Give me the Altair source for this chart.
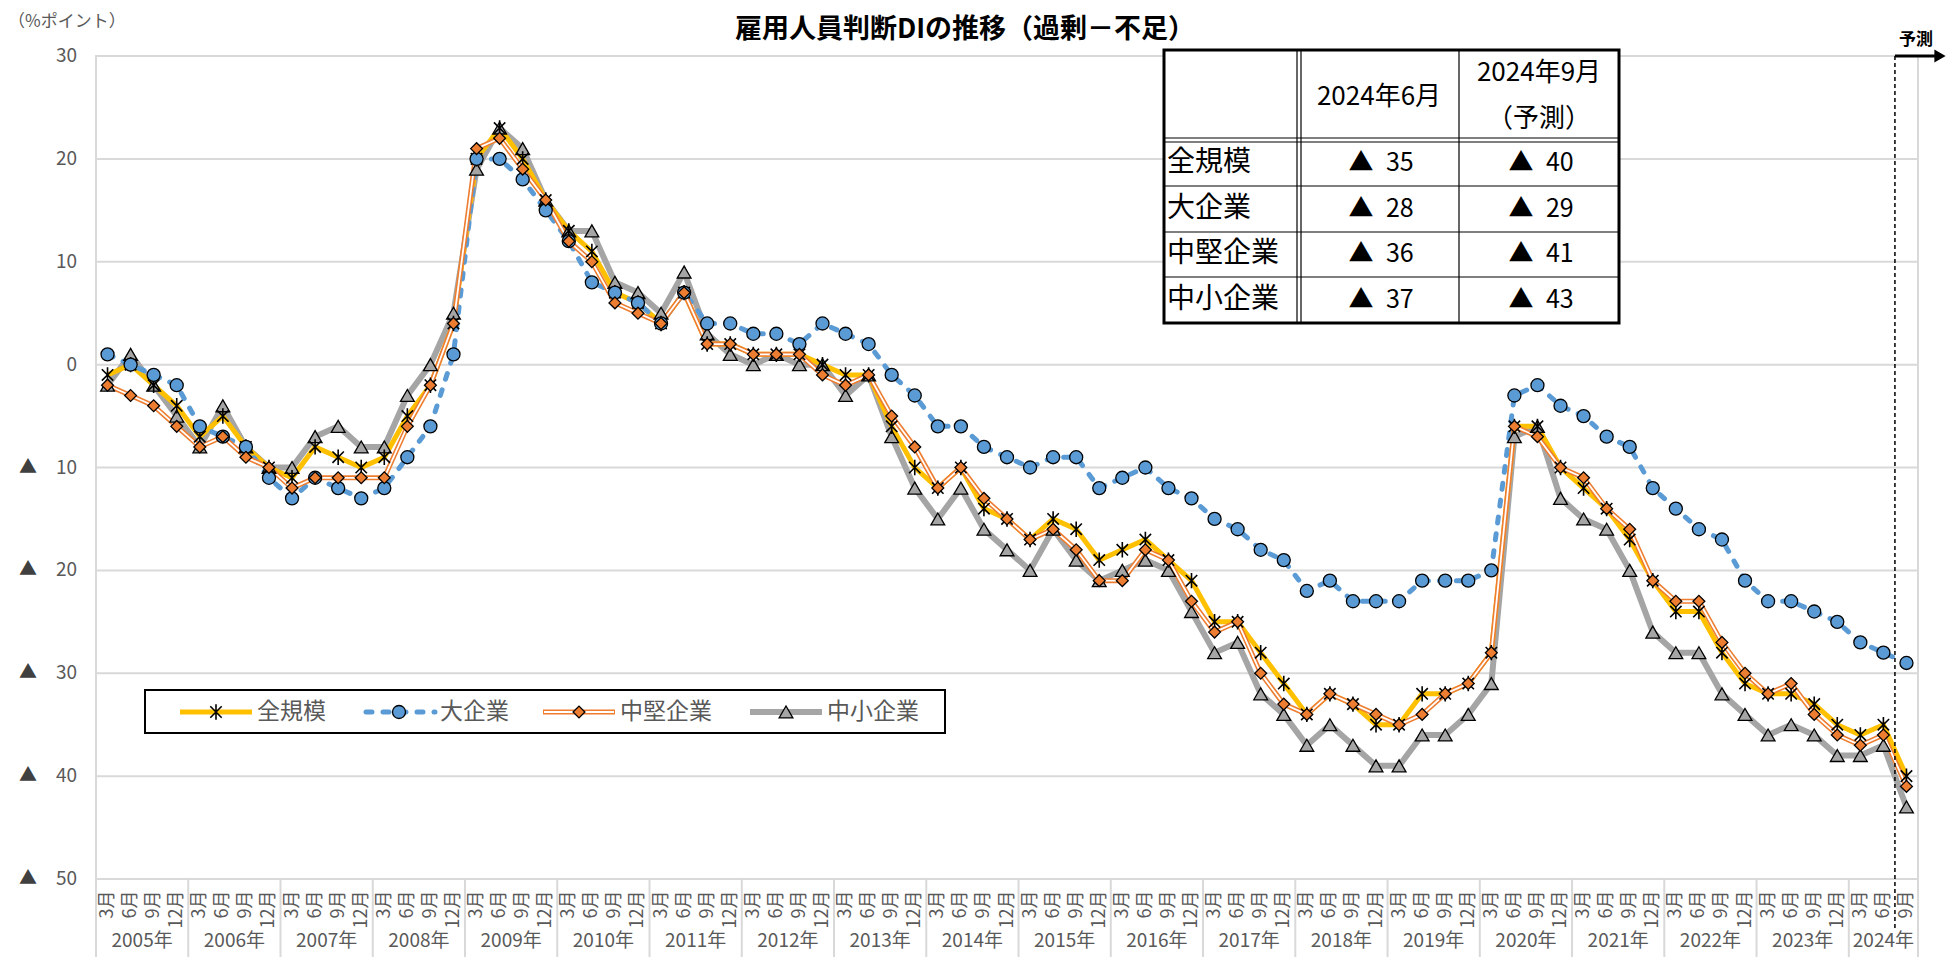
import json
import altair as alt
import pandas as pd

# ---------------- data ----------------
series_names = ["全規模", "大企業", "中堅企業", "中小企業"]
months = ["3月", "6月", "9月", "12月"]
year_labels = ["2005年", "2006年", "2007年", "2008年", "2009年", "2010年", "2011年",
               "2012年", "2013年", "2014年", "2015年", "2016年", "2017年", "2018年",
               "2019年", "2020年", "2021年", "2022年", "2023年", "2024年"]
year_quarters = [4] * 19 + [3]
y_ticks = [-50, -40, -30, -20, -10, 0, 10, 20, 30]
neg_mark = "▲"

all_scale = [
    -1, 0, -2, -4,
    -7, -5, -8, -10,
    -11, -8, -9, -10,
    -9, -5, -2, 4,
    20, 23, 20, 16,
    13, 11, 7, 6,
    4, 7, 2, 2,
    1, 1, 1, 0,
    -1, -1, -6, -10,
    -12, -10, -14, -15,
    -17, -15, -16, -19,
    -18, -17, -19, -21,
    -25, -25, -28, -31,
    -34, -32, -33, -35,
    -35, -32, -32, -31,
    -28, -6, -6, -10,
    -12, -14, -17, -21,
    -24, -24, -28, -31,
    -32, -32, -33, -35,
    -36, -35, -40,
]
large = [
    1, 0, -1, -2,
    -6, -7, -8, -11,
    -13, -11, -12, -13,
    -12, -9, -6, 1,
    20, 20, 18, 15,
    12, 8, 7, 6,
    4, 7, 4, 4,
    3, 3, 2, 4,
    3, 2, -1, -3,
    -6, -6, -8, -9,
    -10, -9, -9, -12,
    -11, -10, -12, -13,
    -15, -16, -18, -19,
    -22, -21, -23, -23,
    -23, -21, -21, -21,
    -20, -3, -2, -4,
    -5, -7, -8, -12,
    -14, -16, -17, -21,
    -23, -23, -24, -25,
    -27, -28, -29,
]
medium = [
    -2, -3, -4, -6,
    -8, -7, -9, -10,
    -12, -11, -11, -11,
    -11, -6, -2, 4,
    21, 22, 19, 16,
    12, 10, 6, 5,
    4, 7, 2, 2,
    1, 1, 1, -1,
    -2, -1, -5, -8,
    -12, -10, -13, -15,
    -17, -16, -18, -21,
    -21, -18, -19, -23,
    -26, -25, -30, -33,
    -34, -32, -33, -34,
    -35, -34, -32, -31,
    -28, -6, -7, -10,
    -11, -14, -16, -21,
    -23, -23, -27, -30,
    -32, -31, -34, -36,
    -37, -36, -41,
]
small = [
    -2, 1, -2, -5,
    -8, -4, -8, -10,
    -10, -7, -6, -8,
    -8, -3, 0, 5,
    19, 23, 21, 16,
    13, 13, 8, 7,
    5, 9, 3, 1,
    0, 1, 0, 0,
    -3, -1, -7, -12,
    -15, -12, -16, -18,
    -20, -16, -19, -21,
    -20, -19, -20, -24,
    -28, -27, -32, -34,
    -37, -35, -37, -39,
    -39, -36, -36, -34,
    -31, -7, -6, -13,
    -15, -16, -20, -26,
    -28, -28, -32, -34,
    -36, -35, -36, -38,
    -38, -37, -43,
]

table_header = ["2024年6月", "2024年9月", "（予測）"]
table_rows = ["全規模", "大企業", "中堅企業", "中小企業"]
table_jun = [-35, -28, -36, -37]
table_sep = [-40, -29, -41, -43]

title_text = "雇用人員判断DIの推移（過剰－不足）"
unit_text = "（%ポイント）"
forecast_text = "予測"

# ---------------- build tables ----------------
values = {"全規模": all_scale, "大企業": large, "中堅企業": medium, "中小企業": small}
rows = []
for name in series_names:
    for i, v in enumerate(values[name]):
        rows.append({"idx": i, "series": name, "value": v})
df = pd.DataFrame(rows)
N = len(all_scale)

bounds = [-0.5]
centers = []
pos = -0.5
for q in year_quarters:
    centers.append(pos + q / 2)
    pos += q
    bounds.append(pos)
years_df = pd.DataFrame({"center": centers, "label": year_labels})
bounds_df = pd.DataFrame({"b": bounds})
ticks_df = pd.DataFrame({"t": y_ticks, "lab": [str(abs(t)) for t in y_ticks]})
neg_df = pd.DataFrame({"t": [t for t in y_ticks if t < 0]})
fc_df = pd.DataFrame({"fc": [N - 1.5]})
one = pd.DataFrame({"a": [0]})

# ---------------- styling ----------------
W, H = 1822, 823
FONT = "Noto Sans CJK JP"
NFONT = "Liberation Sans Narrow, Noto Sans CJK JP, sans-serif"
GRAY_TXT = "#595959"
GRID = "#D9D9D9"
C_ALL, C_LARGE, C_MED, C_SMALL = "#FFC000", "#5B9BD5", "#ED7D31", "#A5A5A5"
ASTERISK = "M-1,-1L1,1M-1,1L1,-1M0,-1.35L0,1.35"

xscale = alt.Scale(domain=[-0.5, N - 0.5], nice=False, zero=False)
yscale = alt.Scale(domain=[-50, 30], nice=False, zero=False)

month_expr = json.dumps(months, ensure_ascii=False) + "[datum.value % 4]"
x_axis = alt.Axis(values=list(range(N)), labelExpr=month_expr, labelAngle=270,
                  grid=False, ticks=False, domain=False, labelPadding=11,
                  labelFontSize=18, labelColor=GRAY_TXT, labelFont=NFONT,
                  labelOverlap=False, labelFlush=False, title=None)
y_axis = alt.Axis(values=y_ticks, labels=False, grid=False, ticks=False, domain=False,
                  title=None)

base = alt.Chart(df)


def sub(name):
    return base.transform_filter(alt.datum.series == name)


X = alt.X("idx:Q", scale=xscale, axis=x_axis)
Y = alt.Y("value:Q", scale=yscale, axis=y_axis)

grid = alt.Chart(ticks_df).mark_rule(color=GRID, strokeWidth=2).encode(
    y=alt.Y("t:Q", scale=yscale, axis=y_axis), x=alt.value(0), x2=alt.value(W))
y_labels = alt.Chart(ticks_df).mark_text(font=NFONT, fontSize=19, color=GRAY_TXT,
                                         align="right", baseline="middle").encode(
    y=alt.Y("t:Q", scale=yscale, axis=y_axis), x=alt.value(-19), text="lab:N")
neg_labels = alt.Chart(neg_df).mark_text(text=neg_mark, font=FONT, fontSize=18,
                                         color="#404040", align="left",
                                         baseline="middle").encode(
    y=alt.Y("t:Q", scale=yscale, axis=y_axis), x=alt.value(-77))

line_small = sub("中小企業").mark_line(color=C_SMALL, strokeWidth=6).encode(x=X, y=Y)
line_all = sub("全規模").mark_line(color=C_ALL, strokeWidth=5).encode(x=X, y=Y)
line_large = sub("大企業").mark_line(color=C_LARGE, strokeWidth=5, strokeDash=[6, 11],
                                     strokeCap="round").encode(x=X, y=Y)
line_med = sub("中堅企業").mark_line(color=C_MED, strokeWidth=5).encode(x=X, y=Y)
line_med_in = sub("中堅企業").mark_line(color="white", strokeWidth=1.8).encode(x=X, y=Y)

pt_small = sub("中小企業").mark_point(shape="triangle-up", filled=True, fill=C_SMALL,
                                      stroke="black", strokeWidth=1.3, size=190,
                                      opacity=1).encode(x=X, y=Y)
pt_all = sub("全規模").mark_point(shape=ASTERISK, filled=False, stroke="black",
                                  strokeWidth=1.6, size=130, opacity=1).encode(x=X, y=Y)
pt_large = sub("大企業").mark_point(shape="circle", filled=True, fill=C_LARGE,
                                    stroke="black", strokeWidth=1.3, size=170,
                                    opacity=1).encode(x=X, y=Y)
pt_med = sub("中堅企業").mark_point(shape="diamond", filled=True, fill=C_MED,
                                    stroke="black", strokeWidth=1.3, size=140,
                                    opacity=1).encode(x=X, y=Y)

# year separators & labels under the axis
seps = alt.Chart(bounds_df).mark_rule(color=GRID, strokeWidth=2).encode(
    x=alt.X("b:Q", scale=xscale, axis=x_axis), y=alt.value(H), y2=alt.value(H + 80))
year_txt = alt.Chart(years_df).mark_text(font=NFONT, fontSize=19, color=GRAY_TXT,
                                         baseline="middle").encode(
    x=alt.X("center:Q", scale=xscale, axis=x_axis), y=alt.value(H + 62), text="label:N")

# forecast marker
fc_line = alt.Chart(fc_df).mark_rule(color="black", strokeWidth=1.5, strokeDash=[4, 3]).encode(
    x=alt.X("fc:Q", scale=xscale, axis=x_axis), y=alt.value(0), y2=alt.value(H + 52))
fc_arrow = alt.Chart(fc_df).mark_rule(color="black", strokeWidth=3).encode(
    x=alt.X("fc:Q", scale=xscale, axis=x_axis), x2=alt.value(W + 18), y=alt.value(0))
fc_head = alt.Chart(one).mark_point(shape="triangle-right", filled=True, color="black",
                                    size=170, opacity=1).encode(
    x=alt.value(W + 22), y=alt.value(0))
fc_text = alt.Chart(one).mark_text(text=forecast_text, font=FONT, fontSize=17,
                                   fontWeight="bold", color="black").encode(
    x=alt.value(W - 2), y=alt.value(-16))

# title and unit
title = alt.Chart(one).mark_text(text=title_text, font=FONT, fontSize=27, fontWeight="bold",
                                 color="black", baseline="alphabetic").encode(
    x=alt.value(869), y=alt.value(-18))
unit = alt.Chart(one).mark_text(text=unit_text, font=NFONT, fontSize=17, color=GRAY_TXT,
                                align="left", baseline="middle").encode(
    x=alt.value(-88), y=alt.value(-34))

# legend
leg_layers = [alt.Chart(one).mark_rect(fill="white", stroke="black", strokeWidth=2).encode(
    x=alt.value(49), x2=alt.value(849), y=alt.value(634), y2=alt.value(677))]
LY = 656
leg_pos = {"全規模": 84, "大企業": 267, "中堅企業": 447, "中小企業": 654}
for name in series_names:
    x0 = leg_pos[name]
    x1 = x0 + 72
    xm = (x0 + x1) / 2
    if name == "全規模":
        leg_layers.append(alt.Chart(one).mark_rule(color=C_ALL, strokeWidth=5).encode(
            x=alt.value(x0), x2=alt.value(x1), y=alt.value(LY)))
        leg_layers.append(alt.Chart(one).mark_point(shape=ASTERISK, filled=False, stroke="black",
                                                    strokeWidth=1.6, size=130, opacity=1).encode(
            x=alt.value(xm), y=alt.value(LY)))
    elif name == "大企業":
        leg_layers.append(alt.Chart(one).mark_rule(color=C_LARGE, strokeWidth=5,
                                                   strokeDash=[6, 11], strokeCap="round").encode(
            x=alt.value(x0 + 3), x2=alt.value(x1), y=alt.value(LY)))
        leg_layers.append(alt.Chart(one).mark_point(shape="circle", filled=True, fill=C_LARGE,
                                                    stroke="black", strokeWidth=1.3, size=170,
                                                    opacity=1).encode(
            x=alt.value(xm), y=alt.value(LY)))
    elif name == "中堅企業":
        leg_layers.append(alt.Chart(one).mark_rule(color=C_MED, strokeWidth=5).encode(
            x=alt.value(x0), x2=alt.value(x1), y=alt.value(LY)))
        leg_layers.append(alt.Chart(one).mark_rule(color="white", strokeWidth=1.8).encode(
            x=alt.value(x0 + 1), x2=alt.value(x1 - 1), y=alt.value(LY)))
        leg_layers.append(alt.Chart(one).mark_point(shape="diamond", filled=True, fill=C_MED,
                                                    stroke="black", strokeWidth=1.3, size=140,
                                                    opacity=1).encode(
            x=alt.value(xm), y=alt.value(LY)))
    else:
        leg_layers.append(alt.Chart(one).mark_rule(color=C_SMALL, strokeWidth=6).encode(
            x=alt.value(x0), x2=alt.value(x1), y=alt.value(LY)))
        leg_layers.append(alt.Chart(one).mark_point(shape="triangle-up", filled=True,
                                                    fill=C_SMALL, stroke="black",
                                                    strokeWidth=1.3, size=190,
                                                    opacity=1).encode(
            x=alt.value(xm), y=alt.value(LY)))
    leg_layers.append(alt.Chart(one).mark_text(text=name, font=FONT, fontSize=23,
                                               color=GRAY_TXT, align="left",
                                               baseline="middle").encode(
        x=alt.value(x1 + 5), y=alt.value(LY)))

# table (top right)
TL, TC1, TC2, TR = 1068, 1203, 1363, 1523
TT, TH, TB = -6, 84, 267
row_lines = [130, 176, 221]
tbl = [alt.Chart(one).mark_rect(fill="white", stroke="black", strokeWidth=3).encode(
    x=alt.value(TL), x2=alt.value(TR), y=alt.value(TT), y2=alt.value(TB))]
for yy in [TH - 2, TH + 2]:
    tbl.append(alt.Chart(one).mark_rule(color="black", strokeWidth=1.2).encode(
        x=alt.value(TL), x2=alt.value(TR), y=alt.value(yy)))
for xx in [TC1 - 2, TC1 + 2]:
    tbl.append(alt.Chart(one).mark_rule(color="black", strokeWidth=1.2).encode(
        x=alt.value(xx), y=alt.value(TT), y2=alt.value(TB)))
tbl.append(alt.Chart(one).mark_rule(color="black", strokeWidth=1.2).encode(
    x=alt.value(TC2), y=alt.value(TT), y2=alt.value(TB)))
for yy in row_lines:
    tbl.append(alt.Chart(one).mark_rule(color="black", strokeWidth=1.2).encode(
        x=alt.value(TL), x2=alt.value(TR), y=alt.value(yy)))


def ttext(txt, x, y, align="center", size=26):
    return alt.Chart(one).mark_text(text=txt, font=FONT, fontSize=size, color="black",
                                    align=align, baseline="middle").encode(
        x=alt.value(x), y=alt.value(y))


cx2 = (TC1 + TC2) / 2
cx3 = (TC2 + TR) / 2
tbl.append(ttext(table_header[0], cx2, 41))
tbl.append(ttext(table_header[1], cx3, 17))
tbl.append(ttext(table_header[2], cx3, 63))
row_y = [107, 153, 198, 244]
for k, name in enumerate(table_rows):
    tbl.append(ttext(name, TL + 3, row_y[k], align="left", size=28))
    tbl.append(ttext(neg_mark + "\u2002" + str(abs(table_jun[k])), cx2 + 2, row_y[k], size=25))
    tbl.append(ttext(neg_mark + "\u2002" + str(abs(table_sep[k])), cx3 + 2, row_y[k], size=25))

chart = alt.layer(
    grid, y_labels, neg_labels, seps, year_txt,
    line_small, line_all, line_large, line_med, line_med_in,
    pt_small, pt_all, pt_large, pt_med,
    fc_line, fc_arrow, fc_head, fc_text,
    title, unit, *leg_layers, *tbl,
).properties(
    width=W, height=H,
    padding={"left": 88, "top": 48, "right": 30, "bottom": 78},
    autosize=alt.AutoSizeParams(type="none"),
    background="white",
).configure_view(stroke=GRID, strokeWidth=2)

chart.save("out.html", embed_options={"renderer": "svg", "actions": False})
